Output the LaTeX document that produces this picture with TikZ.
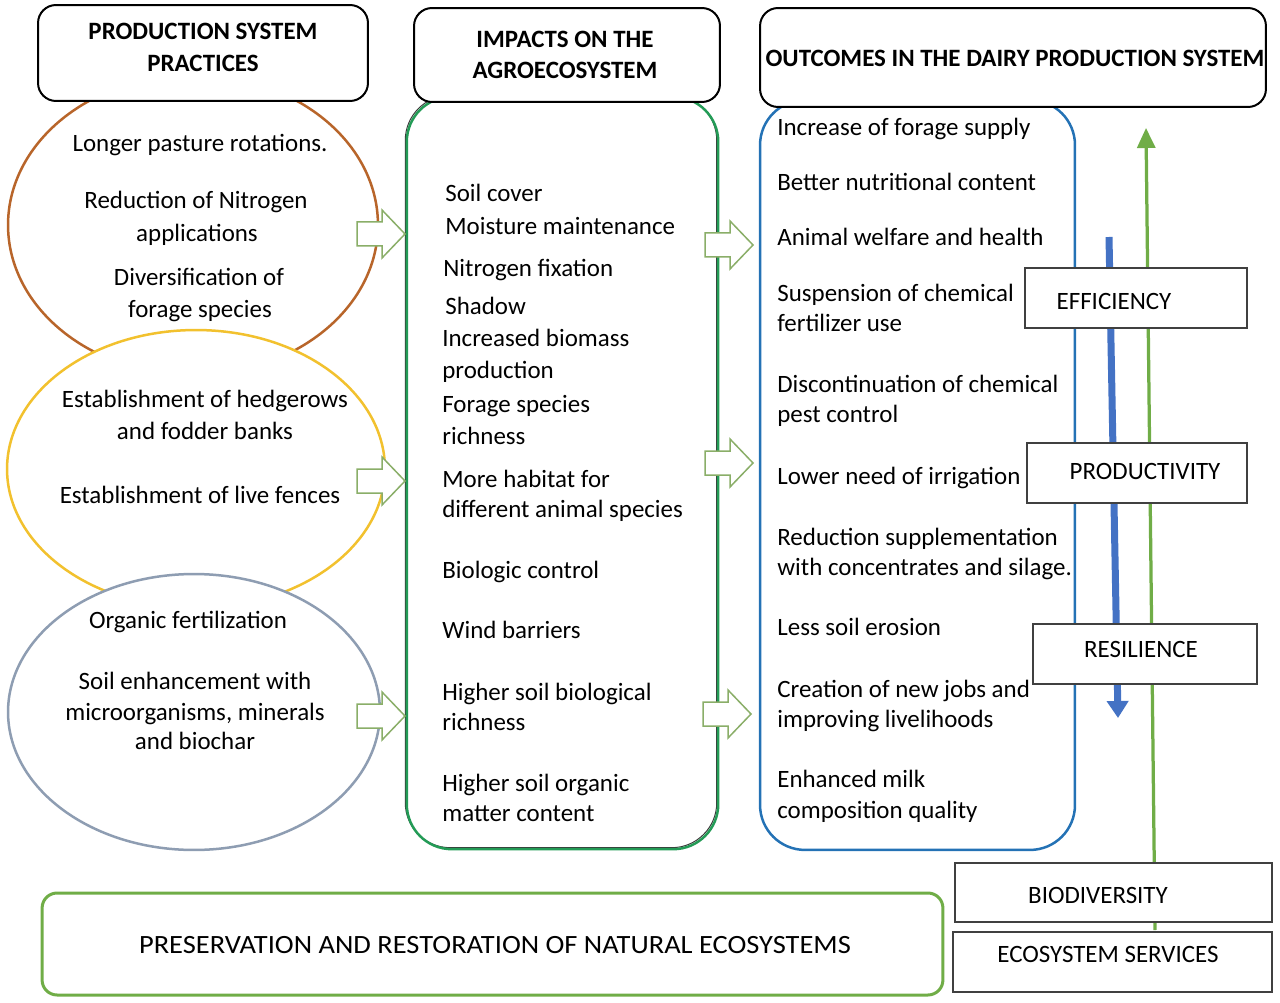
\documentclass[tikz,border=0pt]{standalone}
\usepackage{fontspec}
\setmainfont{Carlito}
\usetikzlibrary{arrows.meta,shapes.geometric}
\definecolor{brownc}{HTML}{B8652A}
\definecolor{yellowc}{HTML}{F2C12E}
\definecolor{greyc}{HTML}{8E9DB2}
\definecolor{colgreen}{HTML}{239B56}
\definecolor{colblue}{HTML}{2472B5}
\definecolor{arrg}{HTML}{8AAE68}
\definecolor{bluearr}{HTML}{4472C4}
\definecolor{greenarr}{HTML}{70AD47}
\definecolor{boxline}{HTML}{404040}
\definecolor{shadowc}{HTML}{3A3A3A}
\begin{document}
\begin{tikzpicture}[x=0.02cm,y=-0.02cm,
  txt/.style={font=\fontsize{14.2}{16}\selectfont, inner sep=0pt, text height=1ex, text depth=0pt, yshift=-0.08cm},
  hdrtxt/.style={txt, font=\fontsize{14.2}{16}\selectfont\bfseries},
  hdr/.style={draw=black, line width=0.04cm, rounded corners=0.36cm, fill=white},
  oval/.style={ellipse, line width=0.05cm, fill=white, inner sep=0pt},
  col/.style={line width=0.05cm, rounded corners=0.9cm, inner sep=0pt},
  blk/.style={draw=arrg, line width=0.03cm, fill=white},
  rbox/.style={draw=boxline, line width=0.03cm, fill=white, minimum height=1.2cm, inner sep=0pt},
  vblue/.style={draw=bluearr, line width=0.14cm, -{Triangle[width=0.42cm,length=0.34cm]}},
  vgreen/.style={draw=greenarr, line width=0.065cm, -{Triangle[width=0.36cm,length=0.4cm]}}
]
\useasboundingbox (0,0) rectangle (1280,1003);

% ellipses
\node[oval, draw=brownc, minimum width=7.4cm, minimum height=6cm] (e1) at (193,225) {};
\node[oval, draw=yellowc, minimum width=7.56cm, minimum height=5.56cm] (e2) at (196,469) {};
\node[oval, draw=greyc, minimum width=7.44cm, minimum height=5.52cm] (e3) at (194,712) {};

% column boxes
\node[col, minimum width=6.18cm, minimum height=15cm] (imp) at (562.5,473) {};
\draw[shadowc, line width=0.02cm, rounded corners=0.9cm] ([shift={(-1.5,-1.5)}]imp.south west) rectangle ([shift={(-1.5,-1.5)}]imp.north east);
\draw[colgreen, line width=0.05cm, rounded corners=0.9cm] (imp.south west) rectangle (imp.north east);
\node[col, draw=colblue, minimum width=6.3cm, minimum height=15cm] (out) at (917.5,475) {};

% headers
\node[hdr, minimum width=6.6cm, minimum height=1.92cm] (h1) at (203,53) {};
\node[hdr, minimum width=6.12cm, minimum height=1.88cm] (h2) at (567,55) {};
\node[hdr, minimum width=10.12cm, minimum height=1.98cm] (h3) at (1013,57.5) {};
\node[hdrtxt] (h1a) at (203,31) {PRODUCTION SYSTEM};
\node[hdrtxt] (h1b) at (203,63) {PRACTICES};
\node[hdrtxt] (h2a) at (565,39) {IMPACTS ON THE};
\node[hdrtxt] (h2b) at (565,70) {AGROECOSYSTEM};
\node[hdrtxt] (h3a) at (1015,58) {OUTCOMES IN THE DAIRY PRODUCTION SYSTEM};

% block arrows
\foreach \x/\y/\n in {357/234/a1, 357/481/a2, 357/716/a3, 705/245/b1, 705/463/b2, 703/714/b3}
  \draw[blk] (\x,\y) coordinate (\n) ++(0,-12) -- ++(25,0) -- ++(0,-12) -- ++(23,24) -- ++(-23,24) -- ++(0,-12) -- ++(-25,0) -- cycle;

% ellipse texts
\foreach \x/\y/\t [count=\i] in {200/143/{Longer pasture rotations.}, 196/200/{Reduction of Nitrogen}, 197/233/{applications}, 199/277/{Diversification of}, 200/309/{forage species},
  205/399/{Establishment of hedgerows}, 205/431/{and fodder banks}, 200/495/{Establishment of live fences},
  188/620/{Organic fertilization}, 195/681/{Soil enhancement with}, 195/712/{microorganisms, minerals}, 195/741/{and biochar}}
  \node[txt] (p\i) at (\x,\y) {\t};

% column 2 texts
\foreach \x/\y/\t [count=\i] in {445/193/{Soil cover}, 445/226/{Moisture maintenance}, 443/268/{Nitrogen fixation}, 445/306/{Shadow},
  442/338/{Increased biomass}, 442/370/{production}, 442/404/{Forage species}, 442/436/{richness},
  442/479/{More habitat for}, 442/509/{different animal species}, 442/570/{Biologic control}, 442/630/{Wind barriers},
  442/692/{Higher soil biological}, 442/722/{richness}, 442/783/{Higher soil organic}, 442/813/{matter content}}
  \node[txt, anchor=west] (i\i) at (\x,\y) {\t};

% column 3 texts
\foreach \y/\t [count=\i] in {127/{Increase of forage supply}, 182/{Better nutritional content}, 237/{Animal welfare and health},
  293/{Suspension of chemical}, 323/{fertilizer use}, 384/{Discontinuation of chemical}, 414/{pest control},
  476/{Lower need of irrigation}, 537/{Reduction supplementation}, 567/{with concentrates and silage.},
  627/{Less soil erosion}, 689/{Creation of new jobs and}, 719/{improving livelihoods}, 779/{Enhanced milk}, 810/{composition quality}}
  \node[txt, anchor=west] (o\i) at (777,\y) {\t};

% vertical arrows
\coordinate (bs) at (1109,237);
\coordinate (be) at (1118,718);
\draw[vblue] (bs) -- (be);
\coordinate (gs) at (1155,930);
\coordinate (ge) at (1146,128);
\draw[vgreen] (gs) -- (ge);

% right boxes
\node[rbox, minimum width=4.44cm] (eff) at (1136,298) {};
\node[rbox, minimum width=4.4cm] (prod) at (1137,473) {};
\node[rbox, minimum width=4.48cm] (res) at (1145,654) {};
\node[rbox, minimum width=6.34cm, minimum height=1.18cm] (bio) at (1113.5,892.5) {};
\node[rbox, minimum width=6.38cm] (eco) at (1112.5,962) {};
\node[txt] (effl) at (1114,301) {EFFICIENCY};
\node[txt] (prodl) at (1145,471) {PRODUCTIVITY};
\node[txt] (resl) at (1141,649) {RESILIENCE};
\node[txt] (biol) at (1098,895) {BIODIVERSITY};
\node[txt] (ecol) at (1108,954) {ECOSYSTEM SERVICES};

% bottom box
\node[draw=greenarr, line width=0.06cm, rounded corners=0.3cm, minimum width=18.02cm, minimum height=2.04cm, inner sep=0pt] (pres) at (492.5,944) {};
\node[txt, font=\fontsize{15}{17}\selectfont, xscale=1.08] (presl) at (495,945) {PRESERVATION AND RESTORATION OF NATURAL ECOSYSTEMS};
\end{tikzpicture}
\end{document}
